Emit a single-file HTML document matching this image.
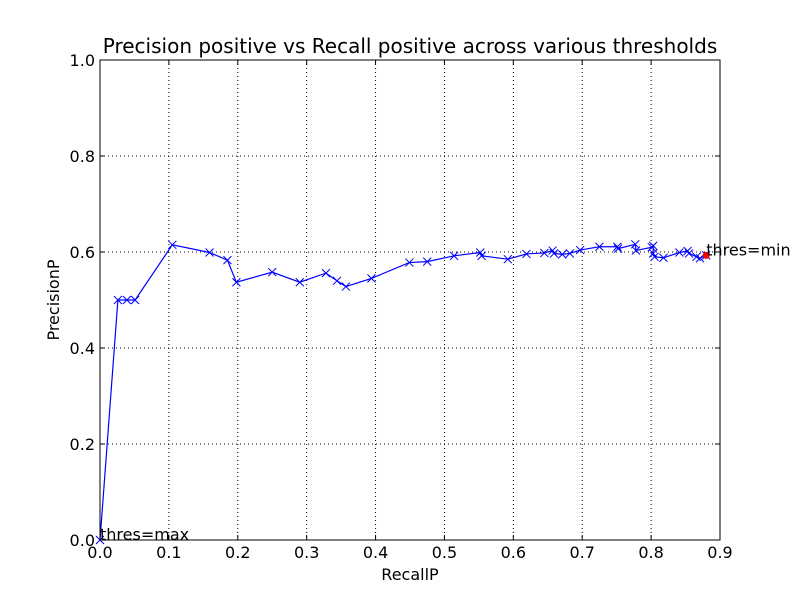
<!DOCTYPE html>
<html><head><meta charset="utf-8"><style>
body{margin:0;background:#fff}
svg text{font-family:"DejaVu Sans","Liberation Sans",sans-serif;fill:#000}
</style></head><body>
<svg id="chart" width="800" height="600" xmlns="http://www.w3.org/2000/svg">
<rect width="800" height="600" fill="#fff"/>
<g id="grid"></g>
<g id="axes"></g>
<g id="series"></g>
<rect x="100" y="60" width="620" height="480" fill="none" stroke="#000" stroke-width="1"/>
<text x="410" y="53" font-size="20" text-anchor="middle">Precision positive vs Recall positive across various thresholds</text>
<text x="410" y="580" font-size="16" text-anchor="middle">RecallP</text>
<text x="59" y="300" font-size="16" text-anchor="middle" transform="rotate(-90 59 300)">PrecisionP</text>
</svg>
<script>
const recall=[0,0.026,0.039,0.051,0.105,0.159,0.185,0.198,0.250,0.290,0.328,0.344,0.357,0.394,0.449,0.475,0.514,0.552,0.554,0.592,0.619,0.645,0.657,0.659,0.671,0.682,0.697,0.725,0.751,0.752,0.777,0.778,0.801,0.803,0.803,0.805,0.818,0.841,0.853,0.855,0.866,0.871,0.880];
const precision=[0,0.5,0.5,0.5,0.615,0.599,0.583,0.537,0.558,0.537,0.556,0.540,0.528,0.545,0.578,0.580,0.592,0.599,0.592,0.585,0.596,0.598,0.603,0.597,0.595,0.597,0.604,0.611,0.611,0.607,0.616,0.603,0.610,0.613,0.597,0.590,0.588,0.599,0.602,0.597,0.590,0.587,0.593];
const xTicks=[0,0.1,0.2,0.3,0.4,0.5,0.6,0.7,0.8,0.9];
const yTicks=[0,0.2,0.4,0.6,0.8,1.0];
const NS="http://www.w3.org/2000/svg";
const sx=v=>100+v/0.9*620, sy=v=>540-v*480;
function mk(t,a,p){const e=document.createElementNS(NS,t);for(const k in a)e.setAttribute(k,a[k]);p.appendChild(e);return e;}
const grid=document.getElementById('grid'),axes=document.getElementById('axes'),ser=document.getElementById('series');
xTicks.forEach(t=>{const x=sx(t);
 if(t>0&&t<0.9){const g=mk('line',{x1:x,x2:x,y1:60,y2:540,stroke:'#000','stroke-dasharray':'1,3','stroke-width':1},grid);
 }
 mk('line',{x1:x,x2:x,y1:540,y2:535,stroke:'#000'},axes);mk('line',{x1:x,x2:x,y1:60,y2:65,stroke:'#000'},axes);
 const l=mk('text',{x:x,y:558,'font-size':16,'text-anchor':'middle'},axes);l.textContent=t.toFixed(1);
 });
yTicks.forEach(t=>{const y=sy(t);
 if(t>0&&t<1){const g=mk('line',{x1:100,x2:720,y1:y,y2:y,stroke:'#000','stroke-dasharray':'1,3','stroke-width':1},grid);
 }
 mk('line',{x1:100,x2:105,y1:y,y2:y,stroke:'#000'},axes);mk('line',{x1:720,x2:715,y1:y,y2:y,stroke:'#000'},axes);
 const l=mk('text',{x:95,y:y+6,'font-size':16,'text-anchor':'end'},axes);l.textContent=t.toFixed(1);
 });
const pl=mk('polyline',{points:recall.map((r,i)=>sx(r)+','+sy(precision[i])).join(' '),fill:'none',stroke:'#0000ff','stroke-width':1.2},ser);

recall.forEach((r,i)=>{const x=sx(r),y=sy(precision[i]);
 const m=mk('path',{d:`M${x-4},${y-4}L${x+4},${y+4}M${x-4},${y+4}L${x+4},${y-4}`,stroke:'#0000ff','stroke-width':1},ser);
 });
const last=recall.length-1;
const rp=mk('circle',{cx:sx(recall[last]),cy:sy(precision[last]),r:3.5,fill:'#ff0000'},ser);

const t1=mk('text',{x:sx(recall[last]),y:sy(precision[last]),'font-size':16},ser);t1.textContent='thres=min';

const t2=mk('text',{x:sx(recall[0]),y:sy(precision[0]),'font-size':16},ser);t2.textContent='thres=max';

</script>
</body></html>
